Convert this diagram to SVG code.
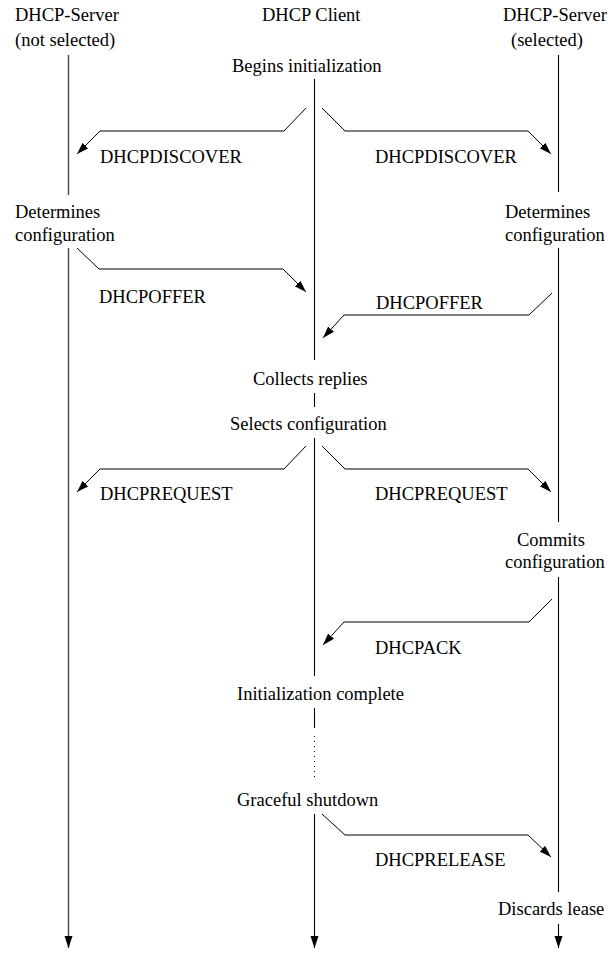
<svg xmlns="http://www.w3.org/2000/svg" width="608" height="956" viewBox="0 0 608 956">
  <style>
    .life { stroke: #000; stroke-width: 1.1; fill: none; }
    .life-gray { stroke: #444; stroke-width: 1.4; fill: none; }
    .msg { stroke: #000; stroke-width: 1; fill: none; marker-end: url(#head); }
    .dots { stroke: #000; stroke-width: 1; stroke-dasharray: 1 4; }
  </style>
  <defs>
    <marker id="head" markerUnits="userSpaceOnUse" markerWidth="13" markerHeight="9" refX="12" refY="4" orient="auto">
      <path d="M0,0 L12,4 L0,8 z" fill="#000"/>
    </marker>
  </defs>
  <rect width="608" height="956" fill="#fff"/>

  <g font-family="'Liberation Serif', Tinos, 'Times New Roman', Times, serif" font-size="18.5" fill="#000">
    <!-- participants -->
    <g id="server-not-selected">
      <text x="15" y="21">DHCP-Server</text>
      <text x="15" y="46">(not selected)</text>
      <path class="life-gray" d="M68.5,55 V195 M68.5,248 V948" marker-end="url(#head)"/>
      <text x="15" y="218">Determines</text>
      <text x="15" y="241">configuration</text>
    </g>

    <g id="client">
      <text x="262" y="21">DHCP Client</text>
      <text x="232" y="72">Begins initialization</text>
      <text x="253" y="385">Collects replies</text>
      <text x="230" y="430">Selects configuration</text>
      <text x="237" y="700">Initialization complete</text>
      <text x="237" y="806">Graceful shutdown</text>
      <path class="life" d="M314.5,79 V360 M314.5,393 V407 M314.5,438 V676 M314.5,708 V728 M314.5,814 V948" marker-end="url(#head)"/>
      <line class="dots" x1="314.5" y1="736" x2="314.5" y2="778"/>
    </g>

    <g id="server-selected">
      <text x="503" y="21">DHCP-Server</text>
      <text x="511" y="46">(selected)</text>
      <text x="505" y="218">Determines</text>
      <text x="505" y="241">configuration</text>
      <text x="517" y="546">Commits</text>
      <text x="505" y="568">configuration</text>
      <text x="498" y="915">Discards lease</text>
      <path class="life" d="M558.5,55 V192 M558.5,248 V522 M558.5,577 V892 M558.5,924 V948" marker-end="url(#head)"/>
    </g>

    <!-- messages -->
    <g id="connectors">
      <polyline class="msg" points="306,108 284,131 100,131 77,154"/>
      <polyline class="msg" points="322,108 345,131 528,131 551,154"/>
      <polyline class="msg" points="77,248 99,269 283,269 306,292"/>
      <polyline class="msg" points="552,293 529,315 344,315 323,338"/>
      <polyline class="msg" points="306,446 284,469 100,469 77,492"/>
      <polyline class="msg" points="322,446 345,469 528,469 551,492"/>
      <polyline class="msg" points="552,599 529,622 344,622 323,645"/>
      <polyline class="msg" points="322,814 345,835 528,835 551,857"/>
    </g>

    <g id="labels">
      <text x="100" y="163">DHCPDISCOVER</text>
      <text x="375" y="163">DHCPDISCOVER</text>
      <text x="99" y="303">DHCPOFFER</text>
      <text x="376" y="309">DHCPOFFER</text>
      <text x="100" y="500">DHCPREQUEST</text>
      <text x="375" y="500">DHCPREQUEST</text>
      <text x="375" y="654">DHCPACK</text>
      <text x="375" y="866">DHCPRELEASE</text>
    </g>
  </g>
</svg>
